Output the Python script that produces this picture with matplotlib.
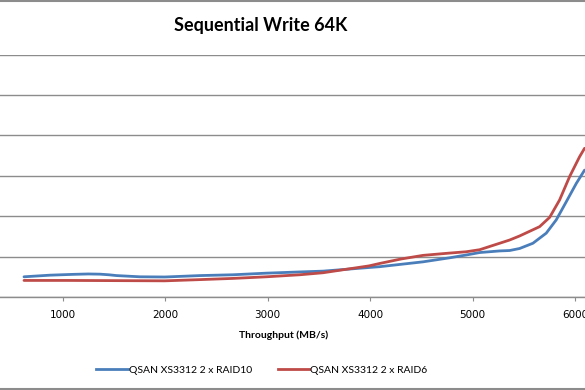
import matplotlib
matplotlib.use("Agg")
import matplotlib.pyplot as plt
from matplotlib.lines import Line2D

# Data (x = throughput MB/s, y = relative value)
raid10_x = [623, 876, 1100, 1250, 1364, 1450, 1526, 1754, 1997, 2338, 2661, 2988, 3313,
            3540, 3989, 4093, 4515, 4775, 4938, 5068, 5165, 5263, 5360, 5457, 5587,
            5717, 5815, 5913, 6010, 6091]
raid10_y = [0.50, 0.54, 0.56, 0.57, 0.565, 0.55, 0.53, 0.50, 0.495, 0.53, 0.55, 0.59, 0.62,
            0.64, 0.73, 0.75, 0.87, 0.97, 1.04, 1.10, 1.12, 1.14, 1.15, 1.20, 1.33,
            1.58, 1.91, 2.36, 2.81, 3.14]

raid6_x = [623, 1039, 1997, 2338, 2661, 2988, 3313, 3540, 3989, 4093, 4300, 4515, 4743,
           4938, 5068, 5165, 5263, 5360, 5457, 5652, 5750, 5847, 5945, 6042, 6091]
raid6_y = [0.41, 0.41, 0.40, 0.43, 0.46, 0.50, 0.55, 0.60, 0.77, 0.83, 0.94, 1.03, 1.08,
           1.12, 1.17, 1.25, 1.33, 1.41, 1.51, 1.74, 1.97, 2.40, 2.98, 3.47, 3.68]

x_ticks = [1000, 2000, 3000, 4000, 5000, 6000]
series_names = ["QSAN XS3312 2 x RAID10", "QSAN XS3312 2 x RAID6"]
title = "Sequential Write 64K"
xlabel = "Throughput (MB/s)"

blue = "#4A7EBB"
red = "#BE4B48"
grid_c = "#8C8C8C"

fig = plt.figure(figsize=(5.85, 3.9), dpi=100)
ax = fig.add_axes([0.0, 93 / 390, 1.0, (297 - 54.5) / 390])

ax.plot(raid10_x, raid10_y, color=blue, lw=2.0, solid_capstyle="round",
        solid_joinstyle="round", zorder=3)
ax.plot(raid6_x, raid6_y, color=red, lw=2.0, solid_capstyle="round",
        solid_joinstyle="round", zorder=3)

ax.set_xlim(389, 6095)
ax.set_ylim(0, 6)
ax.set_yticks([0, 1, 2, 3, 4, 5, 6])
ax.yaxis.grid(True, color=grid_c, lw=1.0)
ax.set_axisbelow(True)
ax.tick_params(axis="y", left=False, labelleft=False)
ax.set_xticks(x_ticks)
ax.set_xticklabels([str(t) for t in x_ticks], fontsize=7.5, family="DejaVu Sans")
ax.tick_params(axis="x", direction="out", length=3, width=0.8, color=grid_c, pad=6)
for s in ["left", "right", "top"]:
    ax.spines[s].set_visible(False)
ax.spines["bottom"].set_color(grid_c)
ax.spines["bottom"].set_linewidth(1.0)

fig.text(261 / 585, 1 - 25 / 390, title, ha="center", va="center",
         fontsize=13, fontweight="bold", family="Lato")
fig.text(284 / 585, 1 - 335 / 390, xlabel, ha="center", va="center",
         fontsize=7.5, fontweight="bold", family="Lato")

handles = [Line2D([], [], color=blue, lw=2.0), Line2D([], [], color=red, lw=2.0)]
fig.legend(handles, series_names, loc="center", bbox_to_anchor=(262 / 585, 1 - 370 / 390),
           ncol=2, frameon=False, prop={"family": "Lato", "size": 7.5},
           handlelength=3.0, handletextpad=0.1, columnspacing=2.5)

# chart outer border lines (top and bottom visible in the crop)
fig.add_artist(Line2D([0, 1], [1 - 1 / 390, 1 - 1 / 390], transform=fig.transFigure,
                      color="#8C8C8C", lw=1.5))
fig.add_artist(Line2D([0, 1], [1 / 390, 1 / 390], transform=fig.transFigure,
                      color="#8C8C8C", lw=1.5))

fig.savefig("out.png", dpi=100)
